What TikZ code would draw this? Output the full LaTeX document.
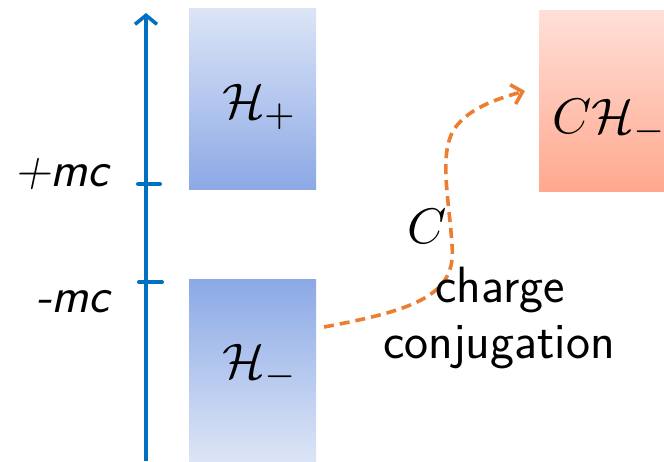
\documentclass[tikz,border=0pt]{standalone}
\usetikzlibrary{arrows.meta}
\definecolor{axisblue}{RGB}{0,112,192}
\definecolor{blight}{RGB}{220,229,246}
\definecolor{bdark}{RGB}{140,169,230}
\definecolor{plight}{RGB}{255,224,216}
\definecolor{pdark}{RGB}{255,168,142}
\definecolor{dashorange}{RGB}{237,125,49}
\tikzset{
  axisline/.style={draw=axisblue, line width=3.6pt},
  tickline/.style={draw=axisblue, line width=4pt, line cap=round},
  bigmath/.style={font=\fontsize{10}{12}\selectfont, scale=5.0, inner sep=0pt, anchor=base west},
  levellabel/.style={font=\fontsize{50}{56}\selectfont\sffamily\slshape, inner sep=0pt, anchor=base east},
  cclabel/.style={font=\fontsize{51}{56}\selectfont\sffamily, inner sep=0pt, anchor=base},
  transfer/.style={draw=dashorange, line width=3.6pt, dash pattern=on 10pt off 6pt,
    -{Straight Barb[length=10pt,width=20pt,line width=3.6pt]}}
}
\begin{document}
\begin{tikzpicture}[x=1pt,y=-1pt]
\useasboundingbox (0,0) rectangle (664,461);
% boxes
\shade[top color=blight, bottom color=bdark] (189,8) rectangle (316,189);
\shade[top color=bdark, bottom color=blight] (189,279) rectangle (316,461);
\shade[top color=plight, bottom color=pdark] (539,10) rectangle (670,191);
% axis
\coordinate (axbot) at (146,461);
\coordinate (axtop) at (146,13);
\draw[axisline, -{Straight Barb[length=9pt,width=22pt,line width=3.6pt]}] (axbot) -- (axtop);
\coordinate (t1a) at (138,184);
\coordinate (t1b) at (160,184);
\coordinate (t2a) at (139,282);
\coordinate (t2b) at (162,282);
\draw[tickline] (t1a) -- (t1b);
\draw[tickline] (t2a) -- (t2b);
\node[levellabel] (pmc) at (109,186) {+mc};
\node[levellabel] (mmc) at (110,312) {-mc};
% labels in boxes
\node[bigmath] (hp) at (221,118) {$\mathcal{H}_+$};
\node[bigmath] (hm) at (221,378) {$\mathcal{H}_-$};
\node[bigmath] (chm) at (551,133) {$C\mathcal{H}_-$};
% transfer curve
\coordinate (cstart) at (324,327);
\coordinate (cmid) at (452,245);
\coordinate (cend) at (525,91);
\draw[transfer] (cstart) .. controls (415,310) and (457,295) .. (cmid)
  .. controls (449,195) and (436,145) .. (460,122)
  .. controls (475,106) and (500,98) .. (cend);
\node[bigmath] (clab) at (406,243) {$C$};
\node[cclabel] (cc1) at (500,302) {charge};
\node[cclabel] (cc2) at (499,358) {conjugation};
\end{tikzpicture}
\end{document}
